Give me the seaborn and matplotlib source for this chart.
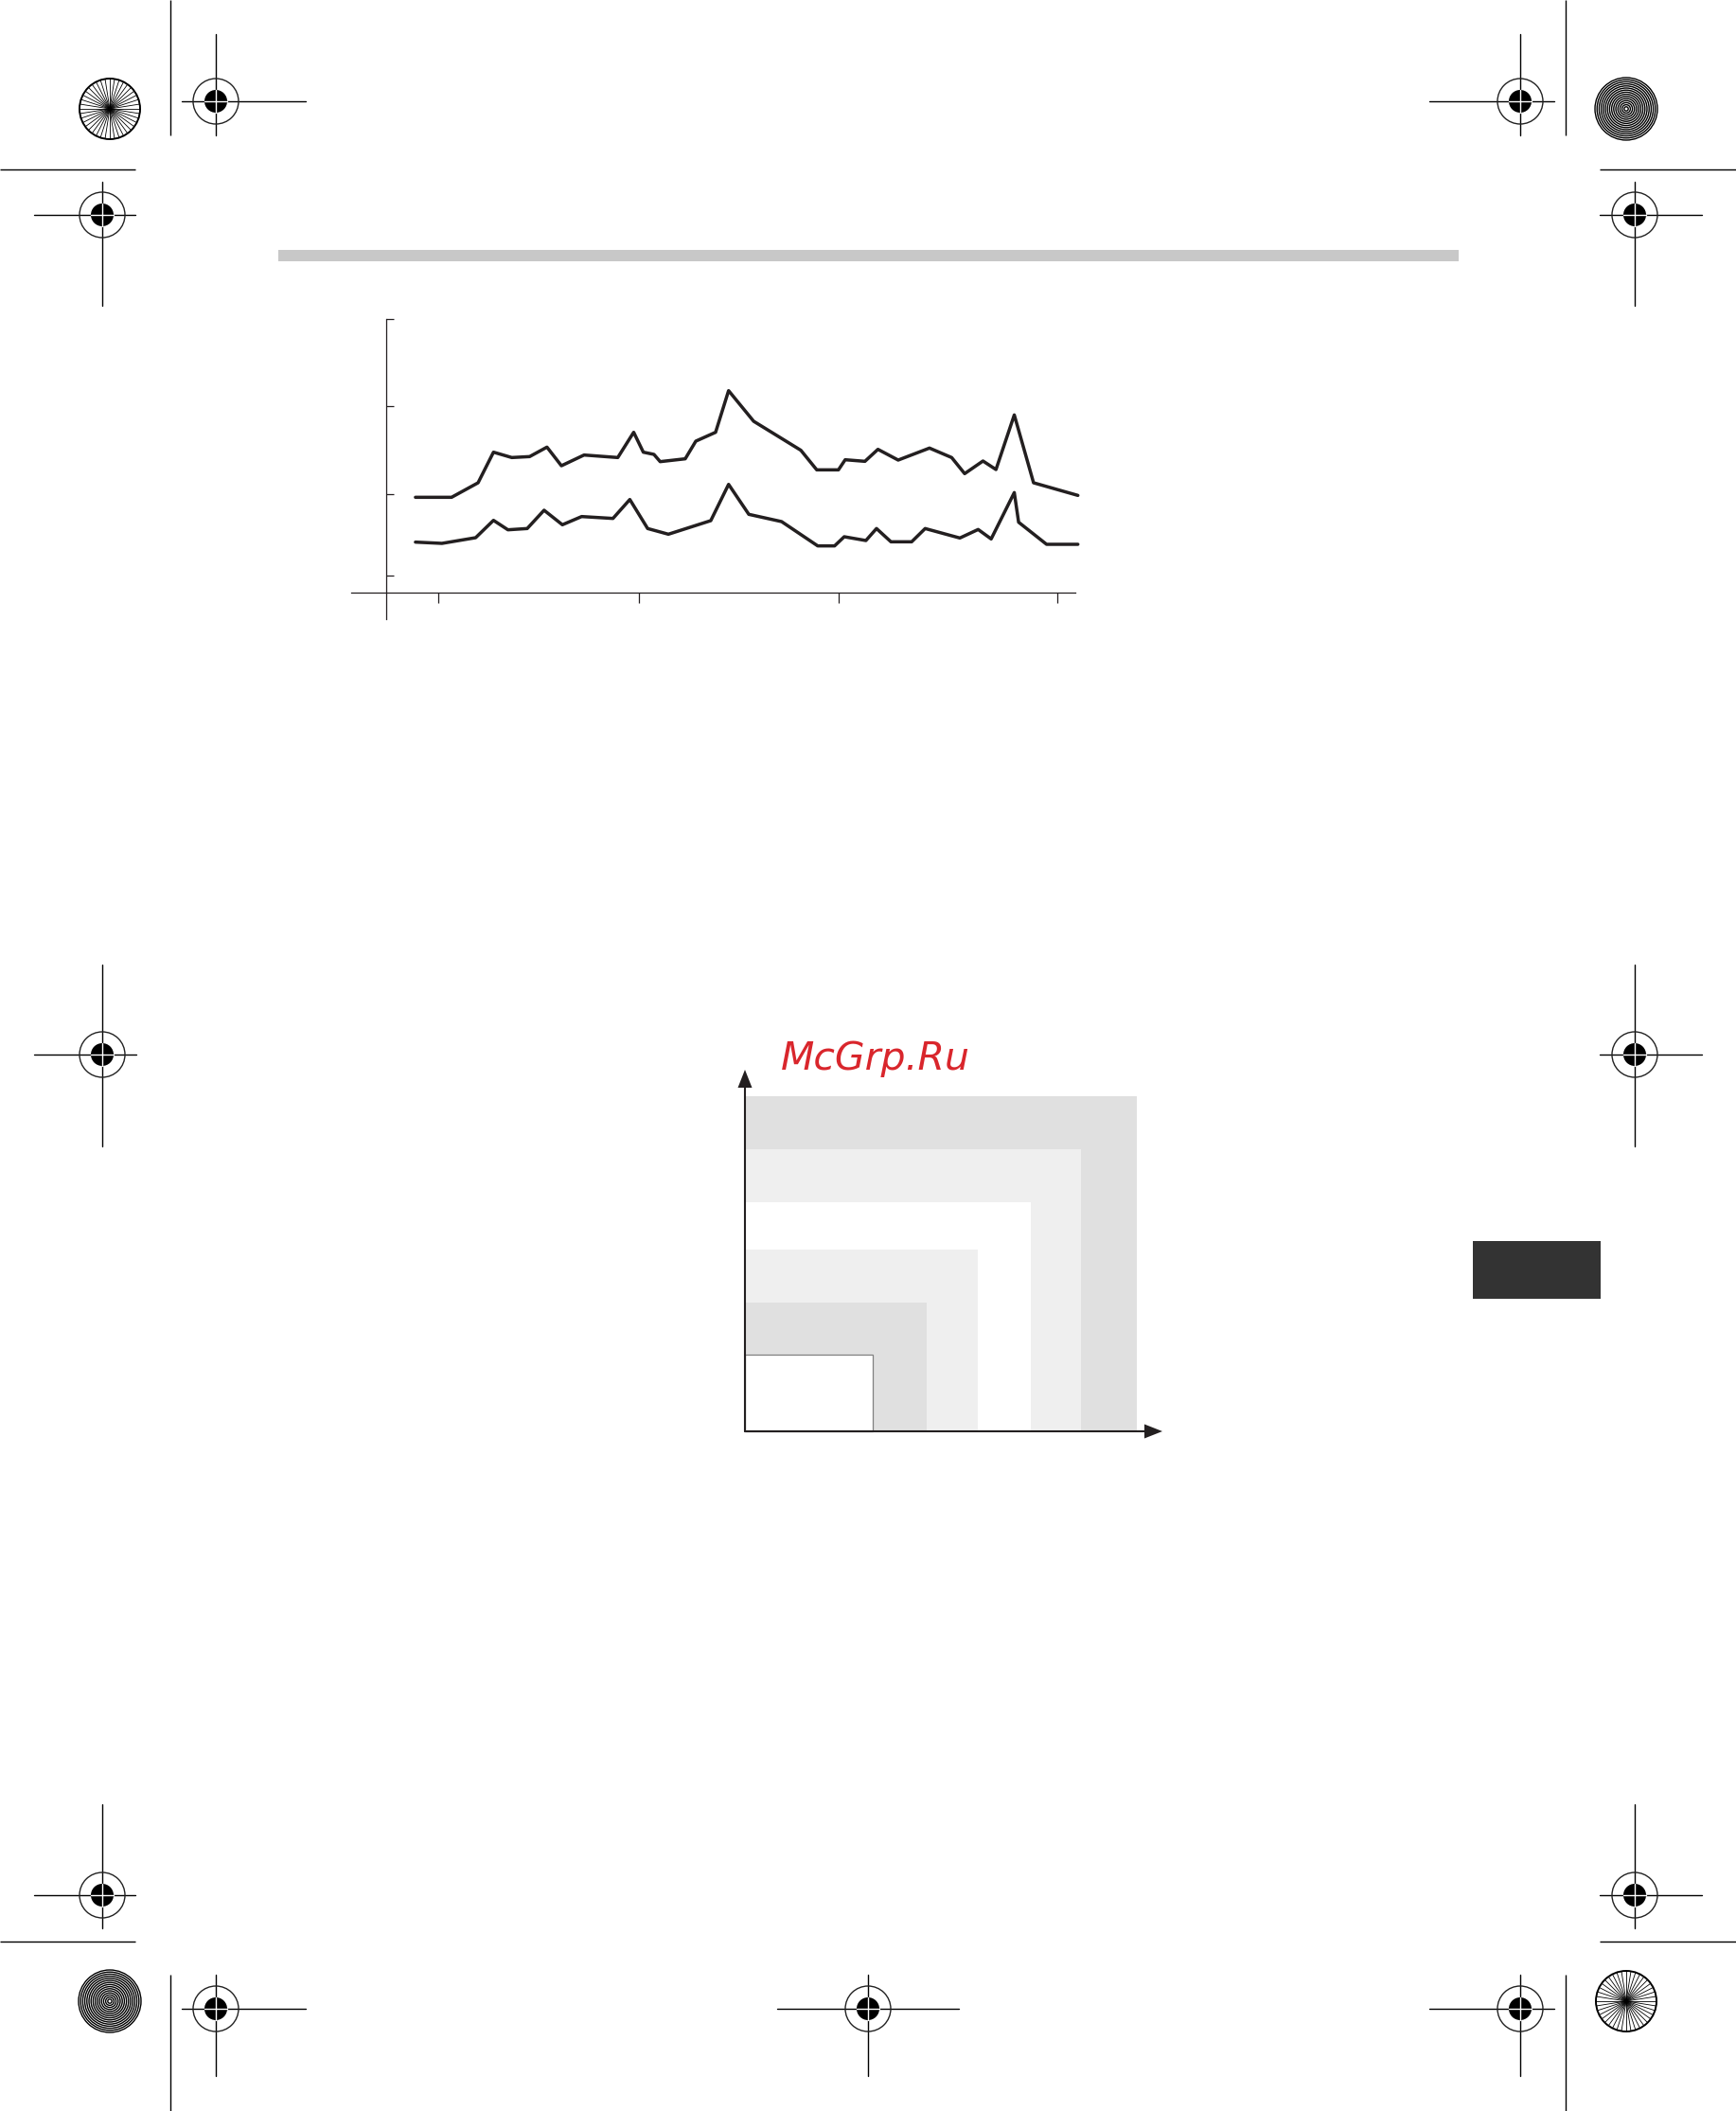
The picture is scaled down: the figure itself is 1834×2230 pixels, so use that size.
import numpy as np
import pandas as pd
import matplotlib
matplotlib.use('Agg')
import matplotlib.pyplot as plt
from matplotlib.patches import Circle, Rectangle, Polygon
import seaborn as sns

sns.set_style('white')
plt.rcParams['font.family'] = ['DejaVu Sans']

INK = '#231f20'

# --- line chart data (x position along axis, height above baseline) ---
upper_x = [155, 230, 285, 317, 355, 392, 428, 458, 505, 575, 608, 628, 650, 663, 715, 737,
           778, 805, 857, 955, 988, 1033, 1047, 1088, 1115, 1157, 1222, 1268, 1295, 1333,
           1360, 1398, 1438, 1530]
upper_y = [302, 302, 348, 445, 428, 431, 461, 402, 436, 428, 508, 445, 438, 415, 424, 480,
           508, 640, 543, 451, 389, 389, 421, 416, 454, 420, 458, 428, 377, 417,
           390, 563, 348, 308]
lower_x = [155, 210, 280, 317, 347, 387, 422, 460, 500, 565, 600, 637, 680, 768, 805, 847,
           915, 990, 1025, 1045, 1090, 1112, 1142, 1185, 1213, 1285, 1323, 1350, 1398, 1407,
           1465, 1530]
lower_y = [160, 156, 174, 229, 199, 203, 261, 215, 241, 235, 295, 203, 185, 228, 343, 248,
           225, 148, 148, 177, 165, 203, 161, 161, 203, 173, 200, 170, 317, 223,
           153, 153]
x_ticks = [203, 619, 1033, 1487]
y_ticks = [54, 311, 590, 866]

# --- nested rectangles (width, height from origin) ---
rect_w = [414, 355, 302, 246, 192, 135]
rect_h = [354, 298, 242, 192, 136, 81]
rect_c = ['#e0e0e0', '#efefef', '#ffffff', '#efefef', '#e0e0e0', '#ffffff']

W, H = 1834, 2230
fig = plt.figure(figsize=(W / 100, H / 100), dpi=100)
fig.patch.set_facecolor('white')

# background / page decorations in pixel coordinates
bg = fig.add_axes([0, 0, 1, 1])
bg.set_xlim(0, W)
bg.set_ylim(H, 0)
bg.axis('off')

# gray header rule and dark side tab
bg.add_patch(Rectangle((294, 264), 1541 - 294, 12, color='#c8c8c8', lw=0))
bg.add_patch(Rectangle((1556, 1311), 1691 - 1556, 61, color='#333333', lw=0))

# crop marks
crop_lines = [((180, 0), (180, 143)), ((1654, 0), (1654, 143)),
              ((0, 179), (143, 179)), ((1690, 179), (1834, 179)),
              ((0, 2051), (143, 2051)), ((1690, 2051), (1834, 2051)),
              ((180, 2086), (180, 2230)), ((1654, 2086), (1654, 2230))]
for (x0, y0), (x1, y1) in crop_lines:
    bg.plot([x0, x1], [y0, y1], color='black', lw=1.0, solid_capstyle='butt')

# registration targets: centre, arm left, right, up, down
targets = [(228, 107, 36, 95, 71, 36), (1606, 107, 96, 36, 71, 36),
           (108, 227, 72, 35, 35, 96), (1727, 227, 37, 71, 35, 96),
           (108, 1114, 72, 36, 95, 97), (1727, 1114, 37, 71, 95, 97),
           (108, 2002, 72, 35, 96, 35), (1727, 2002, 37, 71, 96, 35),
           (228, 2122, 36, 95, 36, 71), (917, 2122, 96, 96, 36, 71),
           (1606, 2122, 96, 36, 36, 71)]
for cx, cy, l, r, u, d in targets:
    bg.plot([cx - l, cx + r], [cy, cy], color='black', lw=1.0, zorder=1)
    bg.plot([cx, cx], [cy - u, cy + d], color='black', lw=1.0, zorder=1)
    bg.add_patch(Circle((cx, cy), 24, fill=False, ec='#222222', lw=1.0, zorder=2))
    bg.add_patch(Circle((cx, cy), 12, color='black', lw=0, zorder=3))
    bg.plot([cx - 12, cx + 12], [cy, cy], color='white', lw=1.0, zorder=4)
    bg.plot([cx, cx], [cy - 12, cy + 12], color='white', lw=1.0, zorder=4)

# star targets and concentric targets
for cx, cy in [(116, 115), (1718, 2114)]:
    for a in np.linspace(0, np.pi, 20, endpoint=False):
        bg.plot([cx - 32 * np.cos(a), cx + 32 * np.cos(a)],
                [cy - 32 * np.sin(a), cy + 32 * np.sin(a)], color='black', lw=0.6)
    bg.add_patch(Circle((cx, cy), 32, fill=False, ec='black', lw=1.4))
for cx, cy in [(1718, 115), (116, 2114)]:
    for rr in np.arange(33, 0, -2.2):
        bg.add_patch(Circle((cx, cy), rr, fill=False, ec='black', lw=1.0))

# watermark
bg.text(825, 1130, 'McGrp.Ru', fontsize=29.5, style='italic', color='#d9262c',
        ha='left', va='baseline')

# --- line chart ---
ax = fig.add_axes([360 / W, 1 - 670 / H, 794 / W, 350 / H])
ax.set_facecolor('none')
ax.set_xlim(0, 1560)
ax.set_ylim(-132, 918)
df = pd.concat([pd.DataFrame({'x': upper_x, 'y': upper_y, 's': 'upper'}),
                pd.DataFrame({'x': lower_x, 'y': lower_y, 's': 'lower'})])
for name, g in df.groupby('s'):
    sns.lineplot(data=g, x='x', y='y', ax=ax, color=INK, lw=2.5, sort=False,
                 estimator=None)
ax.set_xlabel('')
ax.set_ylabel('')
for s in ['top', 'right']:
    ax.spines[s].set_visible(False)
ax.spines['left'].set_position(('data', 95))
ax.spines['left'].set_bounds(-85, 866)
ax.spines['bottom'].set_position(('data', 0))
ax.spines['bottom'].set_bounds(22, 1525)
for s in ['left', 'bottom']:
    ax.spines[s].set_color(INK)
    ax.spines[s].set_linewidth(0.9)
ax.set_xticks(x_ticks)
ax.set_yticks(y_ticks)
ax.set_xticklabels([])
ax.set_yticklabels([])
ax.tick_params(axis='x', direction='out', length=8, width=0.9, color=INK, bottom=True)
ax.tick_params(axis='y', direction='in', length=6, width=0.9, color=INK, left=True)

# --- nested rectangles chart ---
ax2 = fig.add_axes([760 / W, 1 - 1540 / H, 490 / W, 440 / H])
ax2.set_facecolor('none')
ax2.set_xlim(-27, 463)
ax2.set_ylim(-28, 412)
ax2.axis('off')
for w, h, c in zip(rect_w, rect_h, rect_c):
    ax2.bar(0, h, width=w, align='edge', color=c, lw=0)
ax2.bar(0, rect_h[-1], width=rect_w[-1], align='edge', fill=False,
        edgecolor='#808080', lw=0.9)
ax2.plot([0, 0], [0, 364], color=INK, lw=1.5)
ax2.plot([0, 423], [0, 0], color=INK, lw=1.5)
ax2.add_patch(Polygon([(-7.5, 363), (7.5, 363), (0, 382)], color=INK, lw=0))
ax2.add_patch(Polygon([(422, -7.5), (422, 7.5), (441, 0)], color=INK, lw=0))

fig.savefig('out.png', dpi=100, facecolor='white')
